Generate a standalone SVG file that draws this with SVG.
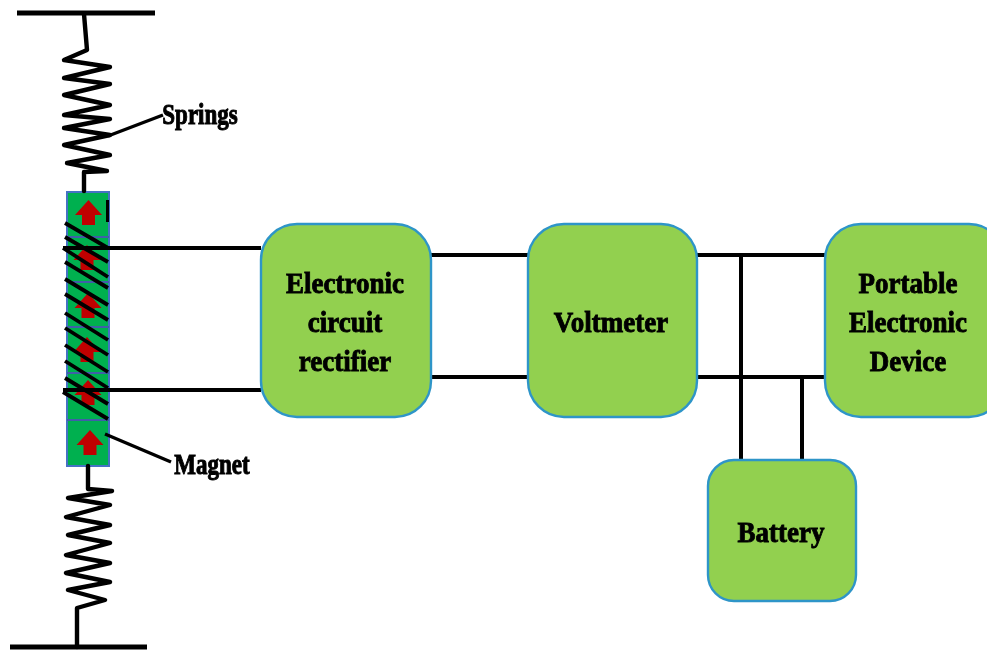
<svg xmlns="http://www.w3.org/2000/svg" width="987" height="650" viewBox="0 0 987 650">
<style>
.wire{fill:none;stroke:#000;stroke-width:4}
.bar{fill:none;stroke:#000;stroke-width:5}
.thin{fill:none;stroke:#000;stroke-width:3.4}
.spring{fill:none;stroke:#000;stroke-width:4.4;stroke-linejoin:round;stroke-linecap:round}
.coil{fill:none;stroke:#000;stroke-width:3.8}
.box{fill:#92d050;stroke:#2e95c8;stroke-width:2.4}
.seg{fill:#00b050;stroke:#4472c4;stroke-width:2}
.arrow{fill:#c00000}
text{font-family:"Liberation Serif","Times New Roman",serif;font-weight:bold;fill:#000;stroke:#000;stroke-width:.8px;text-anchor:middle}
.big{font-size:27px}
.small{font-size:23px}
</style>
<defs>
<filter id="soft" x="-2%" y="-2%" width="104%" height="104%"><feGaussianBlur stdDeviation="0.7"/></filter>
<polygon id="up" class="arrow" points="0,-13 13.500,2 6.500,2 6.500,12 -6.500,12 -6.500,2 -13.500,2"/>
</defs>
<rect width="987" height="650" fill="#fff"/>
<g filter="url(#soft)">
<g id="magnet">
<rect class="seg" x="67" y="192" width="42" height="274"/>
<path d="M67 237H109M67 282H109M67 327H109M67 373H109M67 420H109" fill="none" stroke="#3f5fa8" stroke-width="2"/>
<use href="#up" x="88.500" y="213"/>
<use href="#up" x="87" y="258"/>
<use href="#up" x="88" y="306"/>
<use href="#up" x="87" y="350"/>
<use href="#up" x="88" y="393"/>
<use href="#up" x="90" y="443"/>
<path d="M107.500 200V222" stroke="#000" stroke-width="3" fill="none"/>
</g>
<g id="connectors">
<path class="bar" d="M17 13H155"/>
<path class="spring" d="M84 14L87 50L64 60L110 67L64 78L110 84L64 95L110 105L64 115L110 119L64 128L110 135L64 145L110 155L67 163L107 171L84 172V191"/>
<path class="spring" d="M88 466V489L112 491L68 498L110 505L66 517L110 525L68 535L110 543L66 555L110 563L66 573L110 582L68 590L105 600L77 608V647"/>
<path class="bar" d="M10 647H147"/>
<path class="thin" d="M108 136L163 115"/>
<path class="thin" d="M105 434L171 462"/>
<path class="coil" d="M65 223L108 248M65 237L108 262M63 248L108 277M65 262L108 288M65 279L108 305M65 294L108 320M65 313L108 340M65 328L108 355M65 345L108 372M65 361L108 388M65 378L108 404M63 392L108 419"/>
<path class="wire" d="M63 248H261M63 390H261M431 255H528M431 377H528M697 255H827M697 377H827"/>
<path class="wire" d="M741 255V460M802 377V460"/>
</g>
<g id="rectifier"><rect class="box" x="261" y="224" width="170" height="193" rx="36"/>
<text class="big" transform="translate(345 293) scale(1 1.13)">Electronic</text><text class="big" transform="translate(345 332) scale(1 1.13)">circuit</text><text class="big" transform="translate(345 371) scale(1 1.13)">rectifier</text></g>
<g id="voltmeter"><rect class="box" x="528" y="224" width="169" height="193" rx="36"/>
<text class="big" transform="translate(611 332) scale(1 1.13)">Voltmeter</text></g>
<g id="device"><rect class="box" x="825" y="224" width="180" height="193" rx="36"/>
<text class="big" transform="translate(908 293) scale(1 1.13)">Portable</text><text class="big" transform="translate(908 332) scale(1 1.13)">Electronic</text><text class="big" transform="translate(908 371) scale(1 1.13)">Device</text></g>
<g id="battery"><rect class="box" x="708" y="460" width="148" height="141" rx="26"/>
<text class="big" transform="translate(781 542) scale(1 1.13)">Battery</text></g>
<g id="springs-label"><text class="small" transform="translate(200 124) scale(1 1.25)">Springs</text></g>
<g id="magnet-label"><text class="small" transform="translate(212 474) scale(1 1.25)">Magnet</text></g>
</g>
</svg>
